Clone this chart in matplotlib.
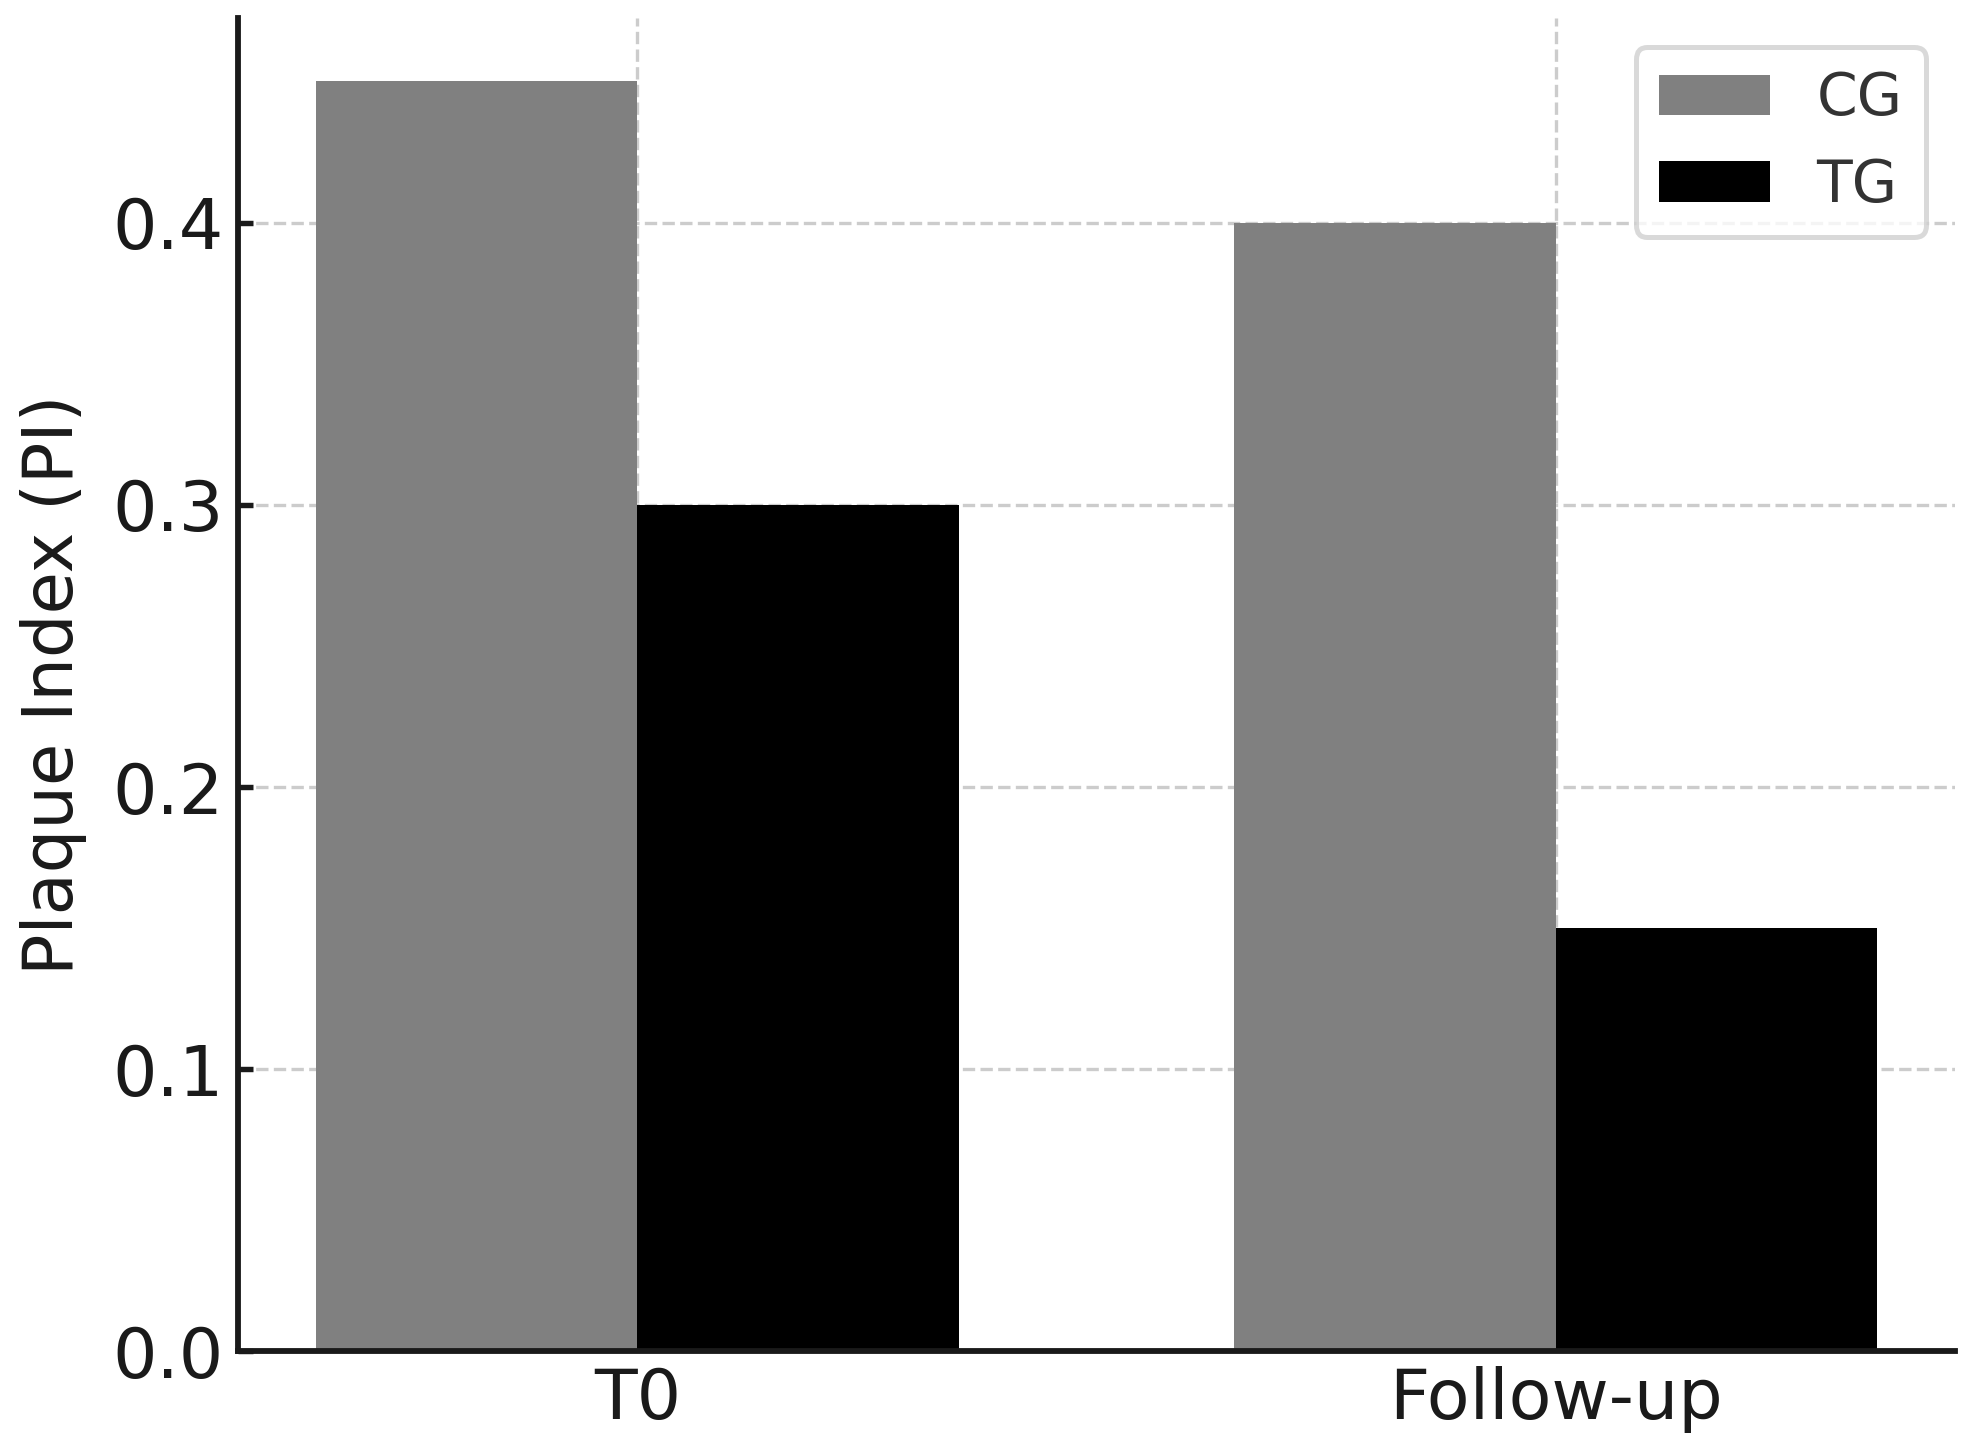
import matplotlib
matplotlib.use("Agg")
import matplotlib.pyplot as plt
import numpy as np

# data
timepoints = ["T0", "Follow-up"]
cg_values = [0.45, 0.40]
tg_values = [0.30, 0.15]
groups = ["CG", "TG"]

plt.rcParams['font.family'] = ['DejaVu Sans']
plt.rcParams['text.color'] = '#1a1a1a'

fig = plt.figure(figsize=(1978 / 300, 1454 / 300), dpi=300)
ax = fig.add_axes([0.1203, 0.0705, 0.9884 - 0.1203, 0.9877 - 0.0705])

x = np.arange(len(timepoints))
width = 0.35
ax.bar(x - width / 2, cg_values, width, color='gray', label=groups[0], zorder=2)
ax.bar(x + width / 2, tg_values, width, color='black', label=groups[1], zorder=2)

ax.set_xticks(x)
ax.set_xticklabels(timepoints)
ax.set_yticks([0.0, 0.1, 0.2, 0.3, 0.4])
ax.set_ylabel("Plaque Index (PI)", fontsize=16.5, color='#1a1a1a', labelpad=6)

ax.tick_params(axis='both', direction='in', length=3.5, width=1.3,
               labelsize=16.8, color='#1a1a1a', labelcolor='#1a1a1a')
for side in ['top', 'right']:
    ax.spines[side].set_visible(False)
for side in ['left', 'bottom']:
    ax.spines[side].set_linewidth(1.4)
    ax.spines[side].set_color('#1a1a1a')

ax.grid(True, linestyle='--', color='#cccccc', linewidth=0.8, zorder=0)
ax.set_axisbelow(True)

leg = ax.legend(loc='upper right', fontsize=14, frameon=True, handlelength=1.9)
leg.get_frame().set_edgecolor('#d0d0d0')
leg.get_frame().set_linewidth(1.2)
for t in leg.get_texts():
    t.set_color('#333333')

fig.savefig("out.png", dpi=300)
